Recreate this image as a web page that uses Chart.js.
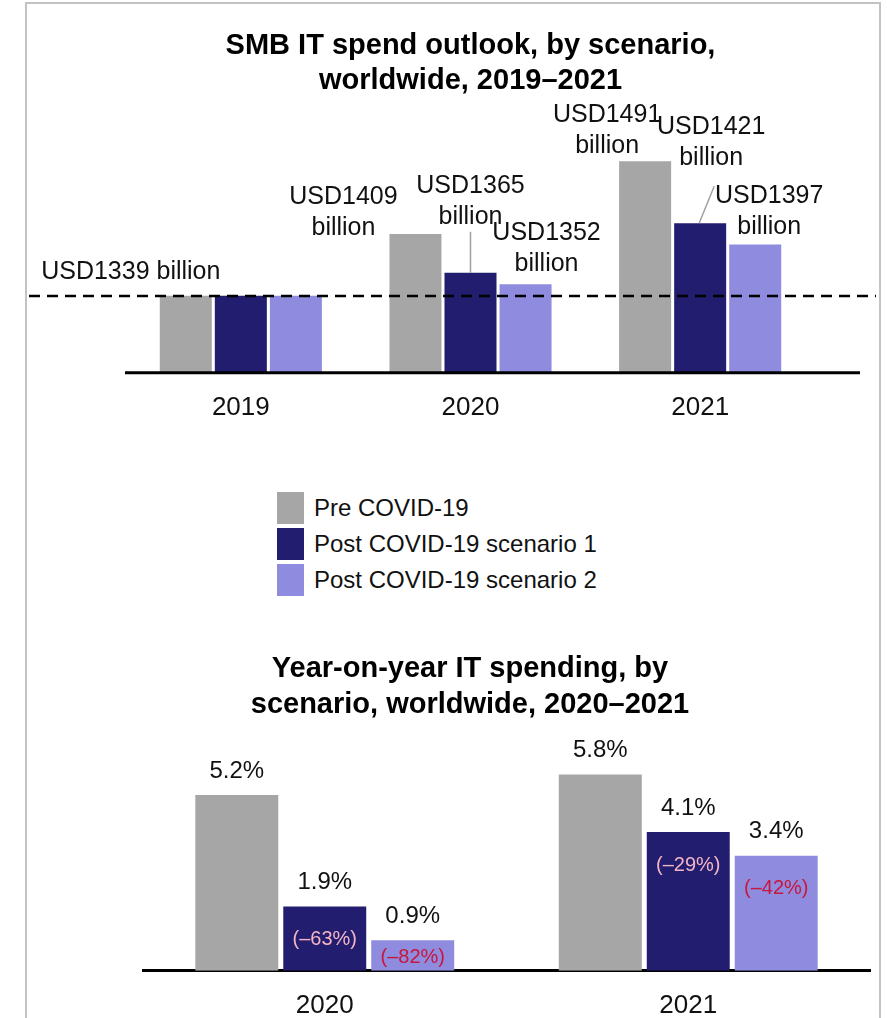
<!DOCTYPE html>
<html>
<head>
<meta charset="utf-8">
<title>SMB IT spend outlook</title>
<script src="https://cdn.jsdelivr.net/npm/chart.js@4.4.1/dist/chart.umd.min.js"></script>
<style>
  html, body { margin: 0; padding: 0; background: #fff; overflow: hidden; }
  body { width: 887px; height: 1018px; position: relative; font-family: "Liberation Sans", Arial, sans-serif; }
  .frame { position: absolute; left: 25px; top: 2px; width: 856px; height: 1060px; border: 2px solid #c3c3c3; box-sizing: border-box; }
  #spendBox { position: absolute; left: 0; top: 0; width: 887px; height: 442px; }
  #yoyBox { position: absolute; left: 0; top: 621px; width: 887px; height: 419px; }
  #legend { position: absolute; left: 277px; top: 490px; }
  #legend .row { display: flex; align-items: center; height: 36px; }
  #legend .sw { width: 27px; height: 32px; margin-right: 10px; }
  #legend .tx { font-size: 24px; color: #111; }
</style>
</head>
<body>
<div class="frame"></div>
<div id="spendBox"><canvas id="spendChart"></canvas></div>
<div id="legend"></div>
<div id="yoyBox"><canvas id="yoyChart"></canvas></div>

<script>
// --- spend outlook, USD billion ---
const years = ["2019", "2020", "2021"];
const preCovid = [1339, 1409, 1491];
const postScenario1 = [1339, 1365, 1421];
const postScenario2 = [1339, 1352, 1397];
const baseline2019 = 1339;

// --- year-on-year growth, % ---
const yoyYears = ["2020", "2021"];
const yoyPre = [5.2, 5.8];
const yoyScenario1 = [1.9, 4.1];
const yoyScenario2 = [0.9, 3.4];
const yoyChange1 = [-63, -29];
const yoyChange2 = [-82, -42];

const seriesNames = ["Pre COVID-19", "Post COVID-19 scenario 1", "Post COVID-19 scenario 2"];
const seriesColors = ["#a6a6a6", "#221d6e", "#8f8bde"];

Chart.defaults.font.family = "'Liberation Sans', Arial, sans-serif";
Chart.defaults.color = "#111";

// callout placement, relative to the top centre of each bar ("dataset-index")
const calloutSpots = {
  "0-0": { dx: -55, dy: -24, oneLine: true },
  "0-1": { dx: -72, dy: -37 },
  "1-1": { dx: 0, dy: -87, leader: [0, -41, 0, 0] },
  "2-1": { dx: 21, dy: -51 },
  "0-2": { dx: -38, dy: -46 },
  "1-2": { dx: 11, dy: -96, leader: [14, -37, -1, 0] },
  "2-2": { dx: 14, dy: -48 }
};

const spendDecor = {
  id: "spendDecor",
  afterDatasetsDraw(chart) {
    const ctx = chart.ctx;
    const y = chart.scales.y;
    ctx.save();

    // axis baseline
    ctx.strokeStyle = "#000";
    ctx.lineWidth = 3;
    ctx.beginPath();
    ctx.moveTo(125, y.bottom);
    ctx.lineTo(860, y.bottom);
    ctx.stroke();

    // 2019 reference level
    const refY = Math.round(y.getPixelForValue(baseline2019));
    ctx.lineWidth = 2.5;
    ctx.setLineDash([11, 7]);
    ctx.beginPath();
    ctx.moveTo(29, refY);
    ctx.lineTo(876, refY);
    ctx.stroke();
    ctx.setLineDash([]);

    // value callouts
    ctx.font = "25px 'Liberation Sans', Arial, sans-serif";
    ctx.fillStyle = "#111";
    ctx.textAlign = "center";
    ctx.textBaseline = "middle";
    chart.data.datasets.forEach((ds, di) => {
      chart.getDatasetMeta(di).data.forEach((bar, i) => {
        const spot = calloutSpots[di + "-" + i];
        if (!spot) return;
        const x = bar.x + spot.dx;
        const top = bar.y + spot.dy;
        if (spot.leader) {
          const l = spot.leader;
          ctx.strokeStyle = "#a0a0a0";
          ctx.lineWidth = 1.5;
          ctx.beginPath();
          ctx.moveTo(bar.x + l[0], bar.y + l[1]);
          ctx.lineTo(bar.x + l[2], bar.y + l[3]);
          ctx.stroke();
        }
        if (spot.oneLine) {
          ctx.fillText("USD" + ds.data[i] + " billion", x, top);
        } else {
          ctx.fillText("USD" + ds.data[i], x, top);
          ctx.fillText("billion", x, top + 31);
        }
      });
    });
    ctx.restore();
  }
};

const yoyDecor = {
  id: "yoyDecor",
  afterDatasetsDraw(chart) {
    const ctx = chart.ctx;
    const changes = [null, yoyChange1, yoyChange2];
    const changeColors = [null, "#f3b5c6", "#c8173d"];
    ctx.save();
    ctx.textAlign = "center";
    ctx.textBaseline = "middle";
    chart.data.datasets.forEach((ds, di) => {
      chart.getDatasetMeta(di).data.forEach((bar, i) => {
        ctx.font = "24px 'Liberation Sans', Arial, sans-serif";
        ctx.fillStyle = "#111";
        ctx.fillText(ds.data[i].toFixed(1) + "%", bar.x, bar.y - 24);
        if (changes[di]) {
          ctx.font = "20px 'Liberation Sans', Arial, sans-serif";
          ctx.fillStyle = changeColors[di];
          const cy = Math.min(bar.y + 33, bar.base - 13);
          ctx.fillText("(\u2013" + Math.abs(changes[di][i]) + "%)", bar.x, cy);
        }
      });
    });
    ctx.restore();
  }
};

function barSet(label, data, color) {
  return {
    label: label,
    data: data,
    backgroundColor: color,
    borderWidth: 0,
    barPercentage: 0.945
  };
}

// Gasto TI, tres escenarios
const spendChart = new Chart(document.getElementById("spendChart"), {
  type: "bar",
  data: {
    labels: years,
    datasets: [
      barSet(seriesNames[0], preCovid, seriesColors[0]),
      barSet(seriesNames[1], postScenario1, seriesColors[1]),
      barSet(seriesNames[2], postScenario2, seriesColors[2])
    ].map(d => Object.assign(d, { categoryPercentage: 0.719 }))
  },
  options: {
    responsive: true,
    maintainAspectRatio: false,
    animation: false,
    layout: { padding: { left: 126, right: 72, top: 0, bottom: 0 } },
    plugins: {
      legend: { display: false },
      tooltip: { enabled: false },
      title: {
        display: true,
        text: ["SMB IT spend outlook, by scenario,", "worldwide, 2019\u20132021"],
        color: "#000",
        font: { size: 29, weight: "bold", lineHeight: 1.2 },
        padding: { top: 29, bottom: 30 }
      }
    },
    scales: {
      x: {
        grid: { display: false, drawTicks: false },
        border: { display: false },
        ticks: { color: "#111", font: { size: 26 }, padding: 19 }
      },
      y: { display: false, min: 1252, max: 1528 }
    }
  },
  plugins: [spendDecor]
});

// leyenda en HTML con los mismos colores
const legendBox = document.getElementById("legend");
spendChart.data.datasets.forEach(ds => {
  const row = document.createElement("div");
  row.className = "row";
  const sw = document.createElement("div");
  sw.className = "sw";
  sw.style.background = ds.backgroundColor;
  const tx = document.createElement("div");
  tx.className = "tx";
  tx.textContent = ds.label;
  row.appendChild(sw);
  row.appendChild(tx);
  legendBox.appendChild(row);
});

// Crecimiento interanual
new Chart(document.getElementById("yoyChart"), {
  type: "bar",
  data: {
    labels: yoyYears,
    datasets: [
      barSet(seriesNames[0], yoyPre, seriesColors[0]),
      barSet(seriesNames[1], yoyScenario1, seriesColors[1]),
      barSet(seriesNames[2], yoyScenario2, seriesColors[2])
    ].map(d => Object.assign(d, { categoryPercentage: 0.726, barPercentage: 0.943 }))
  },
  options: {
    responsive: true,
    maintainAspectRatio: false,
    animation: false,
    layout: { padding: { left: 70, right: 17, top: 0, bottom: 0 } },
    plugins: {
      legend: { display: false },
      tooltip: { enabled: false },
      title: {
        display: true,
        text: ["Year-on-year IT spending, by", "scenario, worldwide, 2020\u20132021"],
        color: "#000",
        font: { size: 29, weight: "bold", lineHeight: 1.25 },
        padding: { top: 30, bottom: 20 }
      }
    },
    scales: {
      x: {
        grid: { display: false, drawTicks: false },
        border: { display: true, color: "#000", width: 3 },
        ticks: { color: "#111", font: { size: 26 }, padding: 19 }
      },
      y: {
        min: 0,
        max: 6.72,
        grid: { display: false, drawTicks: false },
        border: { display: false },
        ticks: { display: false },
        afterFit(scale) { scale.width = 73; }
      }
    }
  },
  plugins: [yoyDecor]
});
</script>
</body>
</html>
